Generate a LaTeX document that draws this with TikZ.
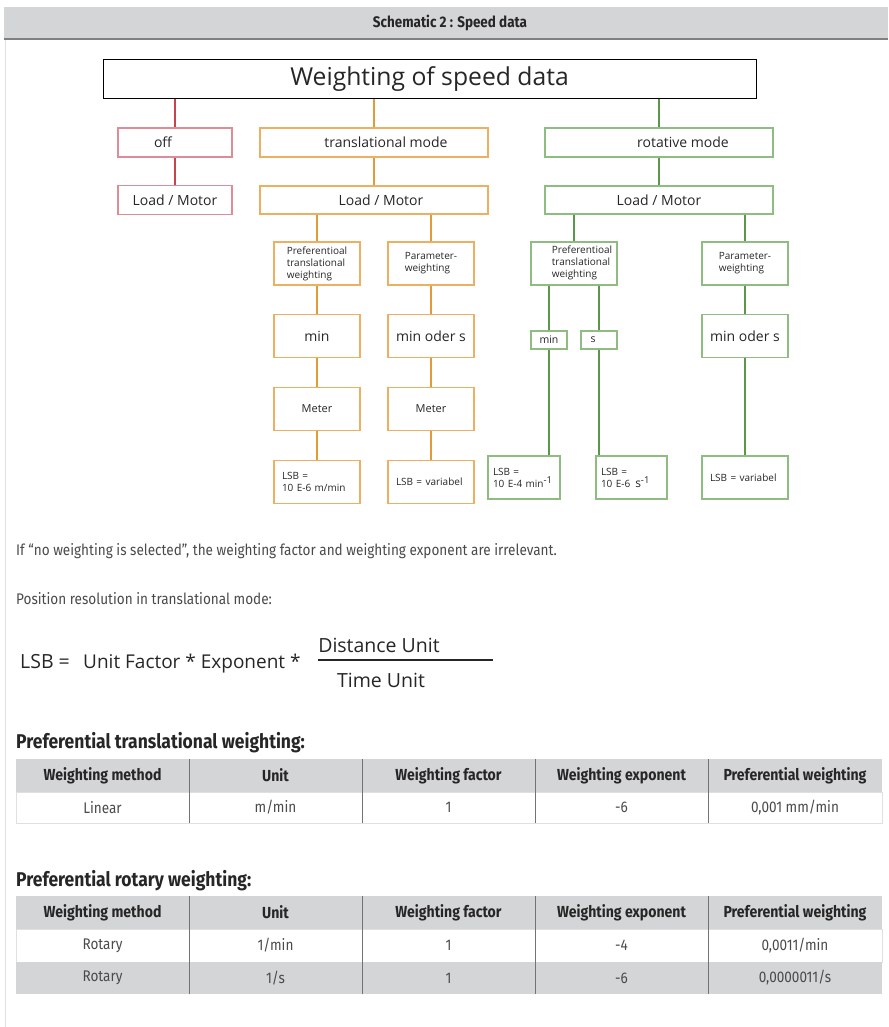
\documentclass[tikz,border=0pt]{standalone}
\usepackage{fontspec}
\setmainfont{Open Sans}
\newfontfamily\dinfont[FakeStretch=0.88]{Fira Sans}
\usetikzlibrary{positioning}

\definecolor{bandgray}{HTML}{D4D5D7}
\definecolor{offred}{HTML}{C8424F}
\definecolor{offredlt}{HTML}{E08C97}
\definecolor{transor}{HTML}{E39B3A}
\definecolor{transorlt}{HTML}{EDB062}
\definecolor{rotgreen}{HTML}{5A974A}
\definecolor{rotgreenlt}{HTML}{8FBC80}
\definecolor{bodygray}{HTML}{4A4A4A}

\newcommand{\fsz}[1]{\fontsize{#1}{1.2\dimexpr#1pt\relax}\selectfont}
\newcommand{\expo}[1]{\raisebox{0.7ex}{\fsz{9.5}#1}}
% shift a centred label sideways by #1 (pt, may be negative)
\newcommand{\nudge}[2]{\ifdim#1pt>0pt\hspace*{#1pt}\hspace*{#1pt}#2\else#2\hspace*{-#1pt}\hspace*{-#1pt}\fi}

\begin{document}
\begin{tikzpicture}[x=1pt,y=-1pt,
   box/.style={draw,line width=1.3pt,inner sep=0pt,align=center,text=black!85},
   offbox/.style={box,draw=offredlt,minimum width=114,minimum height=29,font=\fsz{14}},
   trbox/.style={box,draw=transorlt},
   rtbox/.style={box,draw=rotgreenlt},
   modebox/.style={minimum width=228,minimum height=29,font=\fsz{14}},
   small/.style={minimum width=86,minimum height=43},
   tiny/.style={font=\fsz{10},align=left},
   lsb/.style={small,tiny,text width=70,inner xsep=8},
   wire/.style={line width=2pt},
   thead/.style={font=\dinfont\bfseries\fsz{16},text=black!85},
   tcell/.style={font=\dinfont\fsz{15.4},text=bodygray},
   colsep/.style={black!55,line width=0.8pt},
   node distance=28.5pt]

 \useasboundingbox (0,0) rectangle (888,1027);

 % page frame and caption band
 \draw[black!12,line width=1pt] (5,40) -- (5,1027);
 \fill[bandgray] (4,7) rectangle (888,38);
 \draw[black!50,line width=2pt] (4,39) -- (888,39);
 \node[font=\dinfont\bfseries\fsz{15.3},text=black!85] (caption) at (450,22.5) {Schematic 2 : Speed data};

 % tree
 \node[box,draw=black,line width=1pt,minimum width=653,minimum height=39,font=\fsz{24.7}] (title) at (429.5,79.5) {Weighting of speed data};

 \node[offbox] (off) at (175,142.5) {\nudge{-12}{off}};
 \node[trbox,modebox] (trans) at (374,142.5) {\nudge{12}{translational mode}};
 \node[rtbox,modebox] (rot) at (659,142.5) {\nudge{24}{rotative mode}};

 \node[offbox] (lmO) at (175,200) {Load / Motor};
 \node[trbox,modebox,minimum height=28] (lmT) at (374,200) {\nudge{7}{Load / Motor}};
 \node[rtbox,modebox,minimum height=28] (lmR) at (659,200) {Load / Motor};

 \draw[wire,offred] (title.south -| off.north) -- (off.north);
 \draw[wire,transor] (title.south -| trans.north) -- (trans.north);
 \draw[wire,rotgreen] (title.south -| rot.north) -- (rot.north);
 \draw[wire,offred] (off) -- (lmO);
 \draw[wire,transor] (trans) -- (lmT);
 \draw[wire,rotgreen] (rot) -- (lmR);

 % translational branch
 \node[trbox,small,tiny] (ptwT) at (317,263.5) {Preferentioal\\translational\\weighting};
 \node[trbox,small,below=of ptwT,font=\fsz{14}] (minT) {min};
 \node[trbox,small,below=of minT,font=\fsz{11}] (metA) {Meter};
 \node[trbox,lsb,below=of metA] (lsbTa) {LSB =\\10 E-6 m/min};

 \node[trbox,small,tiny] (pwT) at (431,263.5) {Parameter-\\weighting};
 \node[trbox,small,below=of pwT,font=\fsz{14}] (modT) {min oder s};
 \node[trbox,small,below=of modT,font=\fsz{11}] (metB) {Meter};
 \node[trbox,lsb,below=of metB] (lsbTb) {LSB = variabel\\[0.9em]};

 \draw[wire,transor] (lmT.south -| ptwT.north) -- (ptwT.north);
 \draw[wire,transor] (lmT.south -| pwT.north) -- (pwT.north);
 \draw[wire,transor] (ptwT) -- (minT);
 \draw[wire,transor] (minT) -- (metA);
 \draw[wire,transor] (metA) -- (lsbTa);
 \draw[wire,transor] (pwT) -- (modT);
 \draw[wire,transor] (modT) -- (metB);
 \draw[wire,transor] (metB) -- (lsbTb);

 % rotative branch
 \node[rtbox,small,tiny] (ptwR) at (574,263.5) {\nudge{8}{\begin{tabular}{@{}l@{}}Preferentioal\\translational\\weighting\end{tabular}}};
 \node[rtbox,minimum width=36,minimum height=18,font=\fsz{10.5}] (minR) at (549,340) {min};
 \node[rtbox,minimum width=36,minimum height=18,font=\fsz{10.5}] (sR) at (599,340) {\nudge{-6}{s}};
 \node[rtbox,lsb,minimum width=72,text width=62,inner xsep=5] (lsbRm) at (524,477.5) {LSB =\\10 E-4 min\expo{-1}};
 \node[rtbox,lsb,minimum width=71,text width=61,inner xsep=5] (lsbRs) at (631.5,477.5) {LSB =\\10 E-6 \,{\fsz{12}s}\expo{-1}};

 \node[rtbox,small,tiny] (pwR) at (745,263.5) {Parameter-\\weighting};
 \node[rtbox,small,below=of pwR,font=\fsz{14}] (modR) {min oder s};
 \node[rtbox,lsb] (lsbRp) at (745,477.5) {LSB = variabel\\[0.9em]};

 \draw[wire,rotgreen] (lmR.south -| ptwR.north) -- (ptwR.north);
 \draw[wire,rotgreen] (lmR.south -| pwR.north) -- (pwR.north);
 \draw[wire,rotgreen] (minR.north |- ptwR.south) -- (minR.north);
 \draw[wire,rotgreen] (sR.north |- ptwR.south) -- (sR.north);
 \draw[wire,rotgreen] (minR.south) -- (minR.south |- lsbRm.north);
 \draw[wire,rotgreen] (sR.south) -- (sR.south |- lsbRs.north);
 \draw[wire,rotgreen] (pwR) -- (modR);
 \draw[wire,rotgreen] (modR) -- (lsbRp);

 % notes and formula
 \node[anchor=base west,inner sep=0,font=\dinfont\fsz{15.4},text=bodygray] (note) at (16,555) {If “no weighting is selected”, the weighting factor and weighting exponent are irrelevant.};
 \node[anchor=base west,inner sep=0,font=\dinfont\fsz{15.4},text=bodygray] (posres) at (16,604) {Position resolution in translational mode:};

 \node[anchor=base west,inner sep=0,font=\fsz{19.5},text=black!85] (lsbeq) at (20,668) {LSB =};
 \node[anchor=base west,inner sep=0,font=\fsz{19},text=black!85] (factors) at (83,668) {Unit Factor * Exponent *};
 \node[anchor=base,inner sep=0,font=\fsz{19.5},text=black!85] (dist) at (379,652) {Distance Unit};
 \node[anchor=base,inner sep=0,font=\fsz{19.5},text=black!85] (time) at (381,687) {Time Unit};
 \coordinate (barL) at (318,660);
 \coordinate (barR) at (493,660);
 \draw[black!85,line width=1.5pt] (barL) -- (barR);

 % translational table
 \node[anchor=base west,inner sep=0,font=\dinfont\bfseries\fsz{19.9},text=black!85] (headT) at (16,748) {Preferential translational weighting:};
 \fill[bandgray] (16,759) rectangle (882,792);
 \draw[black!12,line width=1pt] (16,792) rectangle (882,823);
 \foreach \x in {189,362,535,708} \draw[colsep] (\x,759) -- (\x,823);
 \foreach \cx/\t [count=\i] in {102.5/Weighting method,275.5/Unit,448.5/Weighting factor,621.5/Weighting exponent,795/Preferential weighting}
   \node[thead] (pth\i) at (\cx,775.5) {\t};
 \foreach \cx/\t [count=\i] in {102.5/Linear,275.5/{m/min},448.5/1,621.5/-6,795/{0,001 mm/min}}
   \node[tcell] (ptr\i) at (\cx,807.5) {\t};

 % rotary table
 \node[anchor=base west,inner sep=0,font=\dinfont\bfseries\fsz{19.9},text=black!85] (headR) at (16,886) {Preferential rotary weighting:};
 \fill[bandgray] (16,896) rectangle (882,929);
 \draw[black!12,line width=1pt] (16,929) rectangle (882,962);
 \fill[bandgray] (16,962) rectangle (882,994);
 \foreach \x in {189,362,535,708} \draw[colsep] (\x,896) -- (\x,994);
 \foreach \cx/\t [count=\i] in {102.5/Weighting method,275.5/Unit,448.5/Weighting factor,621.5/Weighting exponent,795/Preferential weighting}
   \node[thead] (prh\i) at (\cx,912.5) {\t};
 \foreach \cx/\t [count=\i] in {102.5/Rotary,275.5/{1/min},448.5/1,621.5/-4,795/{0,0011/min}}
   \node[tcell] (pra\i) at (\cx,945.5) {\t};
 \foreach \cx/\t [count=\i] in {102.5/Rotary,275.5/{1/s},448.5/1,621.5/-6,795/{0,0000011/s}}
   \node[tcell] (prb\i) at (\cx,978) {\t};
\end{tikzpicture}
\end{document}
